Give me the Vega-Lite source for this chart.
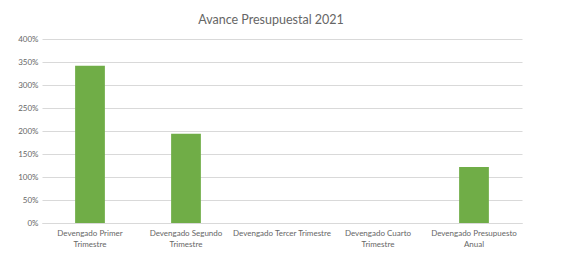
{
  "$schema": "https://vega.github.io/schema/vega-lite/v6.json",
  "autosize": "none",
  "width": 480,
  "height": 184,
  "padding": {"left": 42, "top": 39, "right": 49, "bottom": 33},
  "background": "white",
  "title": {
    "text": "Avance Presupuestal 2021",
    "font": "Lato",
    "fontSize": 12.5,
    "fontWeight": "normal",
    "color": "#666666",
    "anchor": "middle",
    "dx": -11,
    "offset": 9
  },
  "data": {
    "values": [
      {"categoria": "Devengado Primer Trimestre", "avance": 3.42},
      {"categoria": "Devengado Segundo Trimestre", "avance": 1.94},
      {"categoria": "Devengado Tercer Trimestre", "avance": 0},
      {"categoria": "Devengado Cuarto Trimestre", "avance": 0},
      {"categoria": "Devengado Presupuesto Anual", "avance": 1.22}
    ]
  },
  "mark": {"type": "bar", "color": "#70ad47"},
  "encoding": {
    "x": {
      "field": "categoria",
      "type": "nominal",
      "sort": null,
      "scale": {"paddingInner": 0.69, "paddingOuter": 0.345},
      "axis": {
        "title": null,
        "labelAngle": 0,
        "labelFont": "Lato",
        "labelFontSize": 8,
        "labelColor": "#666666",
        "labelPadding": 6,
        "labelLineHeight": 11,
        "ticks": false,
        "domainColor": "#d9d9d9",
        "labelExpr": "datum.label == 'Devengado Tercer Trimestre' ? datum.label : [substring(datum.label, 0, lastindexof(datum.label, ' ')), substring(datum.label, lastindexof(datum.label, ' ') + 1)]"
      }
    },
    "y": {
      "field": "avance",
      "type": "quantitative",
      "scale": {"domain": [0, 4], "nice": false},
      "axis": {
        "title": null,
        "values": [0, 0.5, 1, 1.5, 2, 2.5, 3, 3.5, 4],
        "format": ".0%",
        "labelFont": "Lato",
        "labelFontSize": 8,
        "labelColor": "#666666",
        "labelPadding": 4,
        "ticks": false,
        "domain": false,
        "gridColor": "#d9d9d9"
      }
    }
  },
  "config": {"view": {"stroke": null}}
}
